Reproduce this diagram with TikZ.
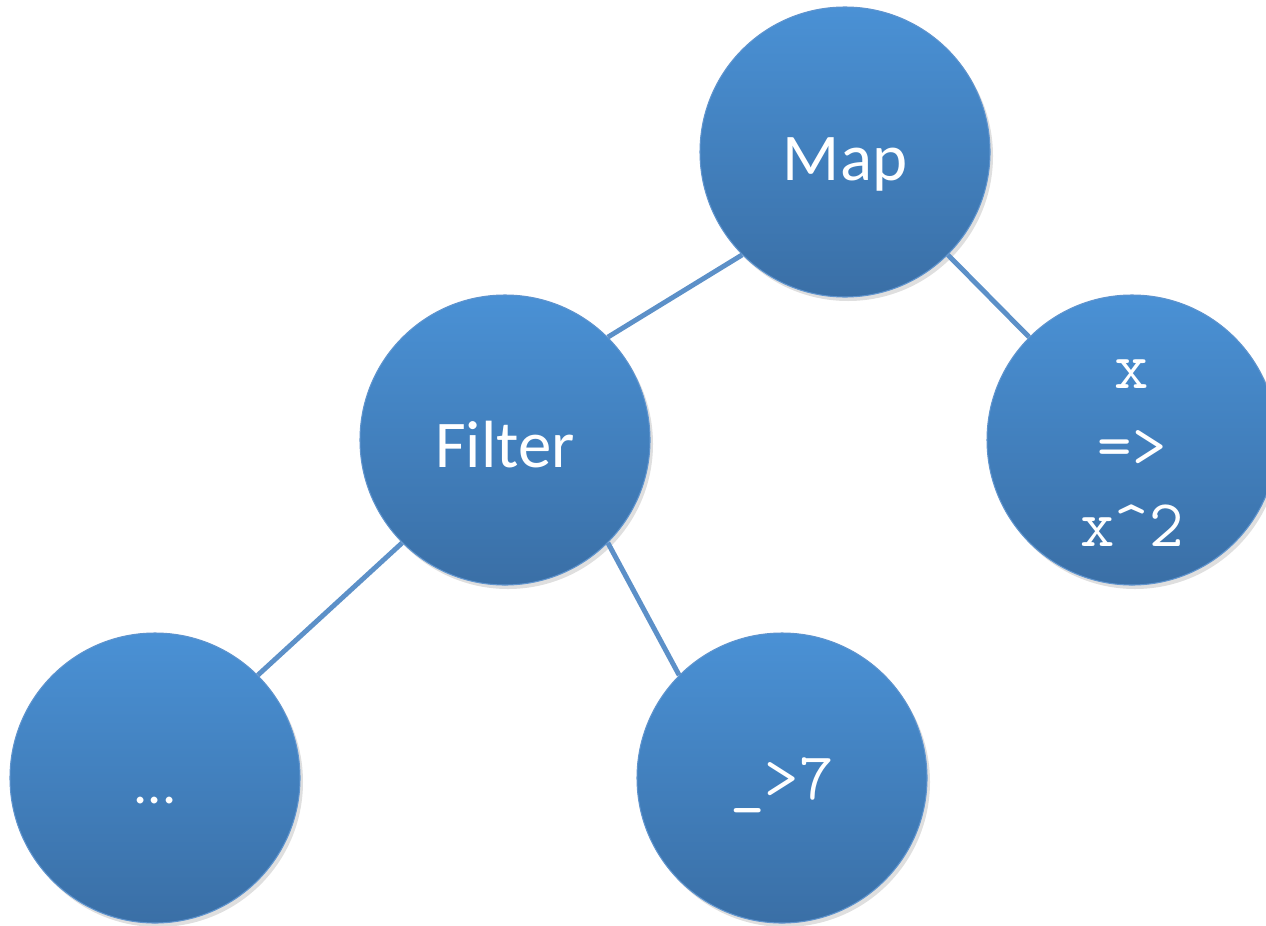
\documentclass[tikz,border=0pt]{standalone}
\usepackage{fontspec}
\setmainfont{Carlito}
\usepackage{xcolor}
\usetikzlibrary{shapes, positioning, calc, shadows}
\definecolor{ballTop}{RGB}{74,145,213}
\definecolor{ballBottom}{RGB}{58,111,166}
\definecolor{ballEdge}{RGB}{95,148,206}
\definecolor{linkBlue}{RGB}{92,144,200}

\tikzset{
    ball/.style={circle, minimum size=5.8cm, inner sep=0pt, top color=ballTop,
        bottom color=ballBottom, draw=ballEdge, line width=0.6pt, text=white,
        drop shadow={opacity=0.25, shadow xshift=0.06cm, shadow yshift=-0.08cm}},
    link/.style={draw=linkBlue, line width=2.8pt}
}

\begin{document}
\begin{tikzpicture}
                    \useasboundingbox (0,0) rectangle (25.32,-18.5);

                    \node[ball, font=\fontsize{38}{44}\selectfont] (Map) at (16.9,-3.04) {\raisebox{-0.56cm}[0pt][0pt]{Map}};
                    \node[ball, font=\fontsize{38}{44}\selectfont] (Filter) at (10.1,-8.8) {\raisebox{-0.55cm}[0pt][0pt]{Filter}};
                    \node[ball, align=center, font=\ttfamily\fontsize{38}{45}\selectfont] (Square) at (22.64,-8.8) {\rule{0pt}{1.1cm}x\\=>\\x\textasciicircum 2};
                    \node[ball, font=\fontsize{32}{36}\selectfont] (Dots) at (3.1,-15.56) {\raisebox{-0.5cm}[0pt][0pt]{...}};
                    \node[ball, font=\ttfamily\fontsize{38}{43}\selectfont] (Greater) at (15.64,-15.56) {\raisebox{-0.42cm}[0pt][0pt]{\_>7}};

                    \draw[link] (Map.225) to (Filter.45);
                    \draw[link] (Map.315) to (Square.135);
                    \draw[link] (Filter.225) to (Dots.45);
                    \draw[link] (Filter.315) to (Greater.135);
                \end{tikzpicture}
\end{document}
